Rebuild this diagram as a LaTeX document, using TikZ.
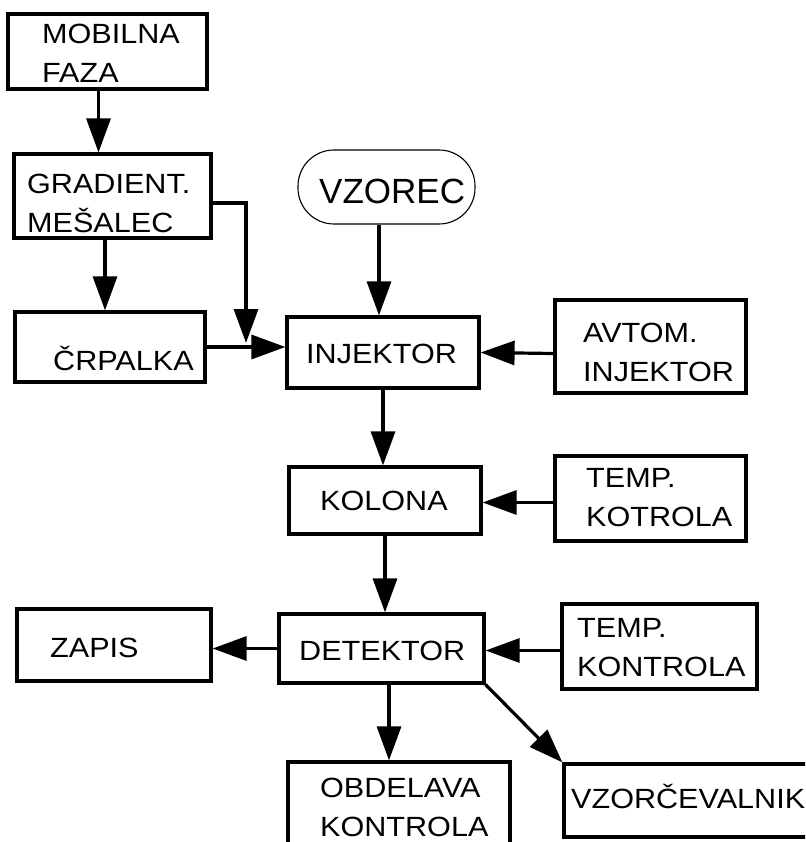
\documentclass[tikz,border=0pt]{standalone}
\usepackage{fontspec}
\setmainfont{Liberation Sans}[FakeStretch=1.1]
\newfontfamily\bigfont{Liberation Sans}
\usetikzlibrary{arrows.meta,calc}
\begin{document}
\begin{tikzpicture}[x=1pt,y=-1pt,
  box/.style={draw,line width=3.2pt,inner sep=0pt},
  term/.style={draw,line width=1.1pt,inner sep=0pt,rounded corners=36pt},
  txt/.style={inner sep=0pt,align=left,font=\fontsize{27.8}{39}\selectfont},
  arr/.style={line width=3.2pt,-{Triangle[length=34pt,width=24pt]}}]
\clip (0,0) rectangle (805,842);
% boxes
\node[box,minimum width=199pt,minimum height=75pt] (mob) at (107.5,51.5) {};
\node[box,minimum width=197pt,minimum height=84pt] (grad) at (112.5,196) {};
\node[box,minimum width=190pt,minimum height=70pt] (crp) at (110,347) {};
\node[box,minimum width=192pt,minimum height=71pt] (inj) at (383,352.5) {};
\node[term,minimum width=177pt,minimum height=74pt] (vz) at (386.5,187) {};
\node[box,minimum width=191pt,minimum height=93pt] (avt) at (650.5,346.5) {};
\node[box,minimum width=192pt,minimum height=67pt] (kol) at (385,500.5) {};
\node[box,minimum width=191pt,minimum height=85pt] (tk) at (650.5,498.5) {};
\node[box,minimum width=205pt,minimum height=69pt] (det) at (381.5,648.5) {};
\node[box,minimum width=194pt,minimum height=72pt] (zap) at (114,645) {};
\node[box,minimum width=195pt,minimum height=85pt] (tkn) at (659.5,646.5) {};
\node[box,minimum width=222pt,minimum height=108pt] (obd) at (399,816) {};
\node[box,minimum width=266pt,minimum height=73pt] (vzc) at (697,800.5) {};
% texts
\node[txt,anchor=west] (mobt) at (42,53.5) {MOBILNA\\FAZA};
\node[txt,anchor=west] (gradt) at (27,203.5) {GRADIENT.\\MEŠALEC};
\node[txt,anchor=base west] (crpt) at (53,370) {ČRPALKA};
\node[txt,anchor=base west] (injt) at (306,363) {INJEKTOR};
\node[inner sep=0pt,anchor=base west,font=\bigfont\fontsize{35}{40}\selectfont] (vzt) at (319,204) {VZOREC};
\node[txt,anchor=west] (avtt) at (583,352) {AVTOM.\\INJEKTOR};
\node[txt,anchor=west] (tkt) at (586,497.5) {TEMP.\\KOTROLA};
\node[txt,anchor=base west] (kolt) at (320,510) {KOLONA};
\node[txt,anchor=base west] (dett) at (299,660) {DETEKTOR};
\node[txt,anchor=base west] (zapt) at (50,657) {ZAPIS};
\node[txt,anchor=west] (tknt) at (577,647.5) {TEMP.\\KONTROLA};
\node[txt,anchor=west] (obdt) at (320,807.5) {OBDELAVA\\KONTROLA};
\node[txt,anchor=base west] (vzct) at (571,808) {VZORČEVALNIK};
% connectors
\coordinate (gj) at (246,343);
\draw[arr] ([xshift=-9pt]mob.south) -- ([xshift=-9pt]mob.south |- grad.north);
\draw[arr] ([xshift=-7.5pt]grad.south) -- ([xshift=-7.5pt]grad.south |- crp.north);
\draw[arr] ([yshift=-7pt]grad.east) -| (gj);
\draw[arr] (crp.east) -- (crp.east -| inj.west);
\draw[arr] ([xshift=-7.5pt]vz.south) -- ([xshift=-7.5pt]vz.south |- inj.north);
\draw[arr] ([yshift=-7pt]avt.west) -- (inj.east);
\draw[arr] (inj.south) -- (inj.south |- kol.north);
\draw[arr] ([yshift=-4pt]tk.west) -- ([yshift=-4pt]tk.west -| kol.east);
\draw[arr] (kol.south) -- (kol.south |- det.north);
\draw[arr] ([yshift=-4pt]tkn.west) -- ([yshift=-4pt]tkn.west -| det.east);
\draw[arr] (det.west) -- (det.west -| zap.east);
\draw[arr] ([xshift=7.5pt]det.south) -- ([xshift=7.5pt]det.south |- obd.north);
\draw[arr] (det.south east) -- (vzc.north west);
\end{tikzpicture}
\end{document}
